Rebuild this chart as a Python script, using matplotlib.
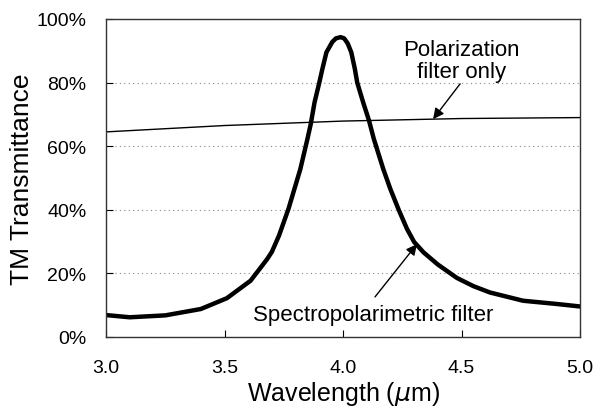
import numpy as np
from matplotlib import pyplot as plt
from matplotlib.ticker import FuncFormatter

plt.rcParams['font.family'] = ['Liberation Sans', 'DejaVu Sans']

# Spectropolarimetric filter
wl_spec = [3.00, 3.10, 3.25, 3.40, 3.51, 3.61, 3.68, 3.70, 3.73, 3.77,
           3.82, 3.85, 3.864, 3.88, 3.90, 3.913, 3.93, 3.955, 3.97, 3.99,
           4.005, 4.02, 4.035, 4.05, 4.06, 4.085, 4.11, 4.13, 4.17, 4.20,
           4.235, 4.27, 4.30, 4.34, 4.40, 4.48, 4.55, 4.62, 4.76, 4.90,
           5.00]
tr_spec = [6.9, 6.2, 6.8, 8.8, 12.2, 17.7, 24.5, 26.8, 31.9, 40.3,
           52.8, 62.3, 67.0, 73.8, 80.0, 84.3, 89.5, 92.8, 93.9, 94.3,
           93.9, 92.3, 89.5, 84.3, 80.0, 73.8, 68.0, 62.3, 52.8, 46.5,
           40.0, 34.0, 29.9, 26.6, 22.8, 18.6, 16.0, 14.0, 11.4, 10.4,
           9.6]

# Polarization filter only
wl_pol = [3.0, 3.5, 4.0, 4.5, 5.0]
tr_pol = [64.5, 66.5, 67.9, 68.7, 69.0]

fig = plt.figure(figsize=(6.02, 4.10), dpi=100)
ax = fig.add_axes([106/602, 1 - 338/410, 474/602, 318/410])

ax.plot(wl_pol, tr_pol, color='k', lw=1.0)
ax.plot(wl_spec, tr_spec, color='k', lw=3.2, solid_joinstyle='round')

ax.set_xlim(3.0, 5.0)
ax.set_ylim(0, 100)
ax.set_xticks([3.0, 3.5, 4.0, 4.5, 5.0])
ax.set_yticks([0, 20, 40, 60, 80, 100])
ax.xaxis.set_major_formatter(FuncFormatter(lambda v, p: f'{v:.1f}'))
ax.yaxis.set_major_formatter(FuncFormatter(lambda v, p: f'{v:.0f}%'))
ax.tick_params(direction='in', length=5, labelsize=14)
ax.tick_params(axis='x', pad=16)
ax.tick_params(axis='y', pad=14)
ax.yaxis.grid(True, linestyle=(0, (1, 3)), color='#888888', lw=0.8)
for s in ax.spines.values():
    s.set_color('#333333')
    s.set_linewidth(1.0)

ax.set_xlabel('Wavelength ($\\mu$m)', fontsize=18, labelpad=2)
ax.set_ylabel('TM Transmittance', fontsize=19, labelpad=2)

ax.text(4.50, 87, 'Polarization\nfilter only', ha='center', va='center',
        fontsize=16, linespacing=1.05)
ax.annotate('', xy=(4.38, 68.5), xytext=(4.494, 79.6),
            arrowprops=dict(arrowstyle='-|>', color='k', lw=1.0,
                            mutation_scale=16, shrinkA=0, shrinkB=0))
ax.text(4.127, 7.2, 'Spectropolarimetric filter', ha='center', va='center',
        fontsize=16)
ax.annotate('', xy=(4.312, 29.2), xytext=(4.135, 12.6),
            arrowprops=dict(arrowstyle='-|>', color='k', lw=1.0,
                            mutation_scale=16, shrinkA=0, shrinkB=0))

plt.savefig('out.png', dpi=100)
